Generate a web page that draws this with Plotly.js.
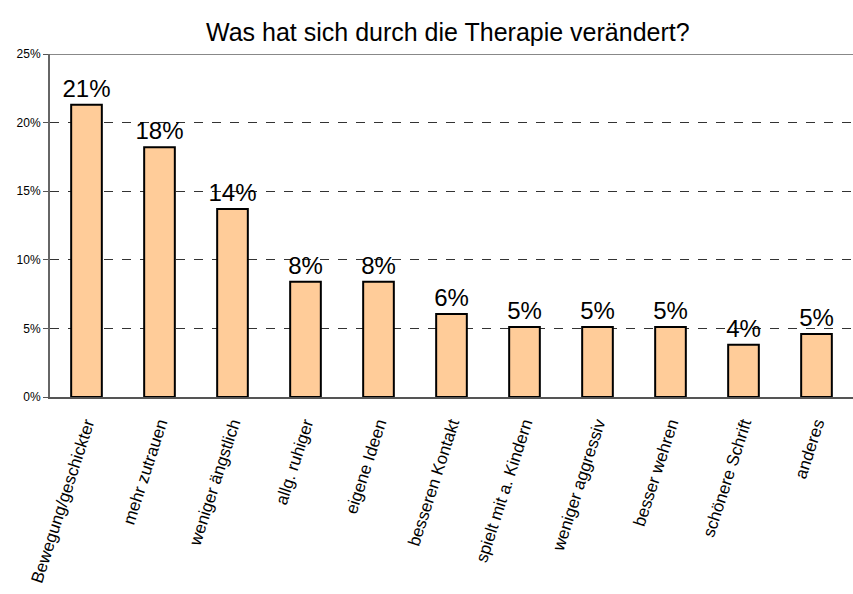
<!DOCTYPE html>
<html>
<head>
<meta charset="utf-8">
<script src="https://cdn.plot.ly/plotly-3.0.1.min.js"></script>
<style>
  body { margin: 0; background: #fff; }
  #chart { width: 853px; height: 594px; }
</style>
</head>
<body>
<div id="chart"></div>
<script>
// categories and shares (in percent)
var categories = ["Bewegung/geschickter", "mehr zutrauen", "weniger ängstlich", "allg. ruhiger",
  "eigene Ideen", "besseren Kontakt", "spielt mit a. Kindern", "weniger aggressiv",
  "besser wehren", "schönere Schrift", "anderes"];
var shares = [21.3, 18.2, 13.7, 8.4, 8.4, 6.05, 5.1, 5.1, 5.1, 3.8, 4.6];

var yTicks = [0, 5, 10, 15, 20, 25];
var yTickLabels = yTicks.map(v => v + "%");

var trace = {
  x: categories,
  y: shares,
  type: "bar",
  marker: {color: "#FFCC99", line: {color: "#000", width: 2}},
  texttemplate: "%{y:.0f}%",
  textposition: "outside",
  constraintext: "none",
  textfont: {family: "Liberation Sans, Arial, sans-serif", size: 24, color: "#000"},
  cliponaxis: false,
  hoverinfo: "none"
};

var layout = {
  width: 853,
  height: 594,
  margin: {l: 50, r: 0, t: 54, b: 197},
  paper_bgcolor: "#fff",
  plot_bgcolor: "#fff",
  bargap: 0.58,
  showlegend: false,
  font: {family: "Liberation Sans, Arial, sans-serif", color: "#000"},
  title: {
    text: "Was hat sich durch die Therapie verändert?",
    font: {size: 25, color: "#000"},
    x: 0.525, xanchor: "center",
    y: 0.945, yanchor: "middle"
  },
  xaxis: {
    tickangle: -72,
    tickfont: {size: 17, color: "#000"},
    showline: true,
    linecolor: "#555",
    linewidth: 2,
    ticks: "",
    ticklabelstandoff: 8,
    showgrid: false
  },
  yaxis: {
    range: [0, 25],
    tickvals: yTicks,
    ticktext: yTickLabels,
    tickfont: {size: 12, color: "#000"},
    ticks: "outside",
    ticklen: 5,
    tickcolor: "#555",
    showline: true,
    linecolor: "#666",
    linewidth: 2,
    showgrid: true,
    gridcolor: "#333",
    griddash: "dash",
    gridwidth: 1,
    zeroline: false
  },
  shapes: [{
    type: "line", xref: "paper", yref: "y",
    x0: 0, x1: 1, y0: 25, y1: 25,
    line: {color: "#888", width: 2}
  }]
};

Plotly.newPlot("chart", [trace], layout, {displayModeBar: false, staticPlot: true});
</script>
</body>
</html>
